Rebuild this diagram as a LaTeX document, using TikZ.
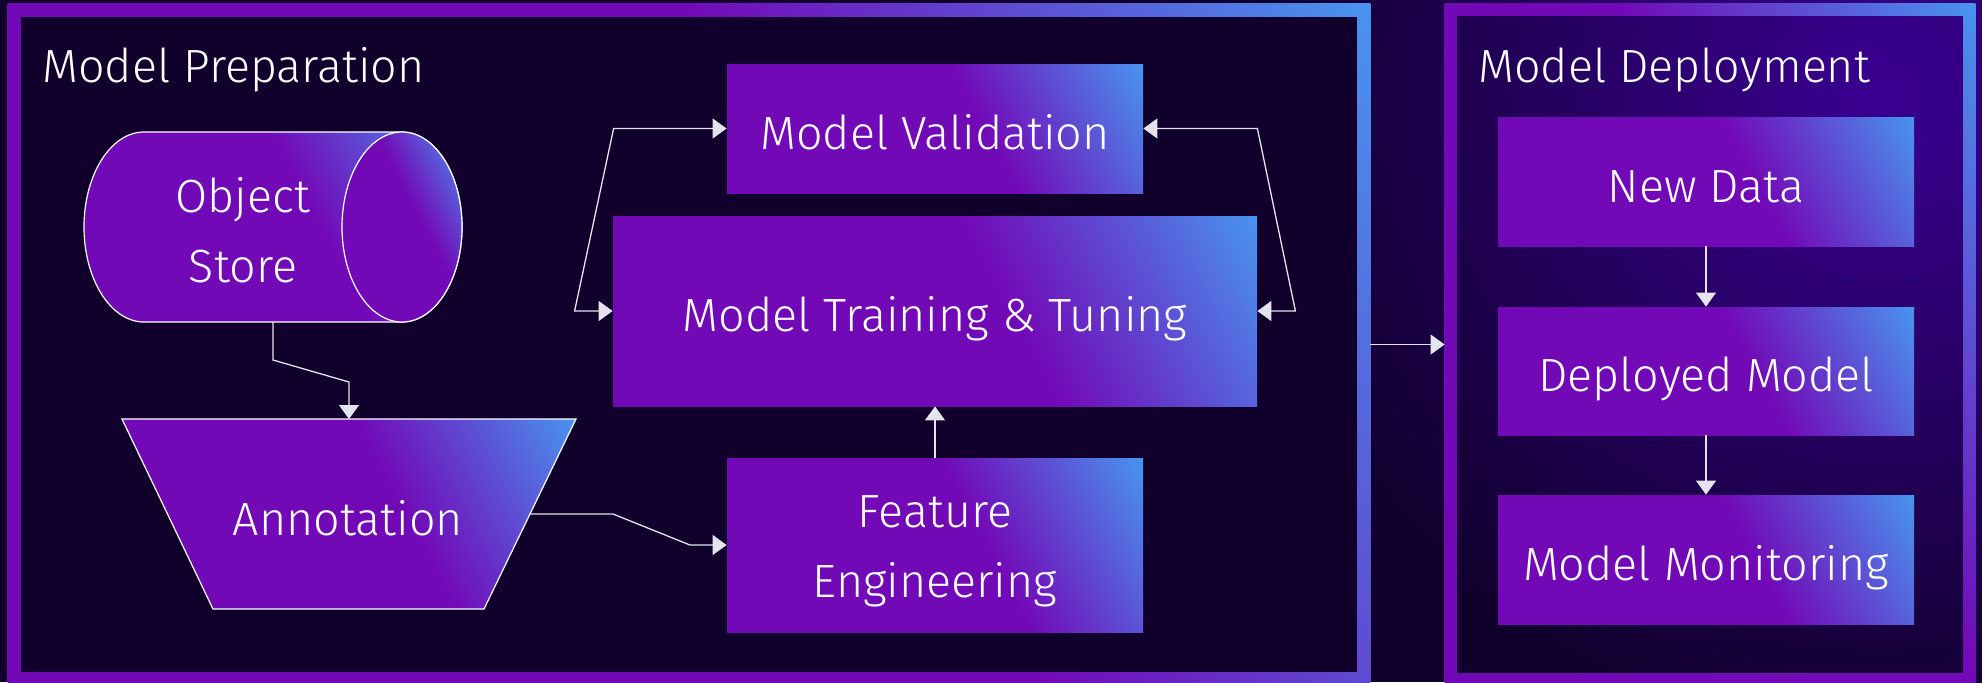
\documentclass[tikz,border=0pt]{standalone}
\usepackage{fontspec}
\IfFontExistsTF{Fira Sans Light}{\setmainfont{Fira Sans Light}}{\setmainfont{Fira Sans}}
\usetikzlibrary{arrows.meta,calc}
\definecolor{pu}{HTML}{7209B7}
\definecolor{bl}{HTML}{4895EF}
\definecolor{bgc}{HTML}{10002B}
\definecolor{glow}{HTML}{3A0092}
\definecolor{lnc}{HTML}{E4E4EE}
\pgfdeclarehorizontalshading{grad}{100bp}{color(0bp)=(pu); color(56bp)=(pu); color(80bp)=(bl); color(100bp)=(bl)}
\makeatletter
\newcommand\gradpic{%
  \pgfpointdiff{\pgfpointanchor{path picture bounding box}{south west}}{\pgfpointanchor{path picture bounding box}{north east}}%
  \pgfmathsetmacro\gW{\pgf@x}\pgfmathsetmacro\gH{\pgf@y}%
  \pgfmathsetmacro\gU{(\gW*cos(28)+\gH*sin(28))/2/30}%
  \pgfmathsetmacro\gV{(\gW*sin(28)+\gH*cos(28))/2/50*1.1}%
  \begin{pgfscope}
    \pgftransformshift{\pgfpointanchor{path picture bounding box}{center}}%
    \pgftransformrotate{28}%
    \pgftransformxscale{\gU}\pgftransformyscale{\gV}%
    \pgflowlevelsynccm
    \pgfuseshading{grad}%
  \end{pgfscope}}
\makeatother
\begin{document}
\begin{tikzpicture}[x=0.5pt,y=-0.5pt,
  >={Triangle[width=10pt,length=7pt]},
  conn/.style={draw=lnc, line width=0.65pt},
  txt/.style={text=white, font=\fontsize{23.3}{35}\selectfont, inner sep=0pt},
  one/.style={text height=20.5pt, text depth=0pt},
  gfill/.style={path picture={\gradpic}},
  box/.style={rectangle, inner sep=0pt, txt, gfill, minimum width=208pt},
  outl/.style={draw=white, line width=0.6pt}
]
\useasboundingbox (0,0) rectangle (1982,682);
\fill[bgc] (0,0) rectangle (1982,682);
\begin{scope}
\clip (0,0) rectangle (1982,682);
\shade[inner color=glow, outer color=bgc] (1880,100) circle[radius=325pt];
\end{scope}
% frames
\node[minimum width=681pt, minimum height=340.5pt, inner sep=0pt] (lf) at (689,344.5) {};
\node[minimum width=265pt, minimum height=340.5pt, inner sep=0pt] (rf) at (1710,344.5) {};
\path[gfill] (lf.south west) rectangle (lf.north east);
\fill[bgc] ([shift={(6.5pt,6.5pt)}]lf.south west) rectangle ([shift={(-6.5pt,-6.5pt)}]lf.north east);
\path[gfill] (rf.south west) rectangle (rf.north east);
\begin{scope}
\clip ([shift={(6.25pt,6.5pt)}]rf.south west) rectangle ([shift={(-6.25pt,-6.5pt)}]rf.north east);
\fill[bgc] (rf.south west) rectangle (rf.north east);
\shade[inner color=glow, outer color=bgc] (1880,100) circle[radius=325pt];
\end{scope}
\node[txt, anchor=base west] (lft) at (42,82) {Model Preparation};
\node[txt, anchor=base west] (rft) at (1478,82) {Model Deployment};
% cylinder
\path[gfill, outl] (402,132) -- (144,132)
  arc[start angle=90,end angle=270,x radius=30pt,y radius=47.5pt] -- (402,322)
  arc[start angle=-90,end angle=90,x radius=30pt,y radius=47.5pt] -- cycle;
\path[gfill, outl] (402,227) ellipse[x radius=30pt, y radius=47.5pt];
\node[txt, align=center] (os) at (243,230) {Object\\Store};
\coordinate (osb) at (273,322);
% trapezoid
\path[gfill, outl] (122,419) -- (576,419) -- (484,609) -- (213,609) -- cycle;
\node[txt, one] (ann) at (348,514.5) {Annotation};
\coordinate (annt) at (349,419);
\coordinate (annr) at (530,514);
% boxes
\node[box, one, minimum height=64.5pt] (val) at (935,128.5) {Model Validation};
\node[box, one, minimum width=322pt, minimum height=95pt] (train) at (935,311) {Model Training \& Tuning};
\node[box, align=center, minimum height=87pt] (fe) at (935,545) {\rule{0pt}{22.5pt}Feature\\Engineering};
\node[box, one, minimum height=64.5pt] (nd) at (1706,181.5) {New Data};
\node[box, one, minimum height=64pt] (dm) at (1706,371) {Deployed Model};
\node[box, one, minimum height=64.5pt] (mm) at (1706,559.5) {Model Monitoring};
% connectors
\draw[conn,->] (osb) -- (273,360) -- (349,382) -- (annt);
\draw[conn,->] (annr) -- (613,514) -- (690,545) -- (fe.west);
\draw[conn,->] (fe.north) -- (train.south);
\draw[conn,<->] (train.west) -- ++(-38,0) -- ($(val.west)+(-113,0)$) -- (val.west);
\draw[conn,<->] (val.east) -- ++(114,0) -- ($(train.east)+(38,0)$) -- (train.east);
\draw[conn,->] (lf.east) -- (rf.west);
\draw[conn,->] (nd.south) -- (dm.north);
\draw[conn,->] (dm.south) -- (mm.north);
\end{tikzpicture}
\end{document}
